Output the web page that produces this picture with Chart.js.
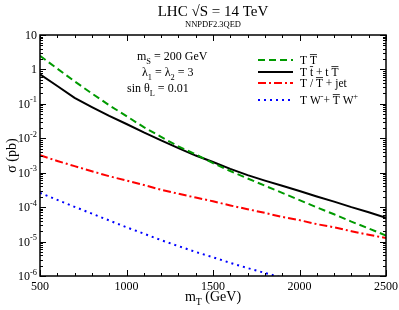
<!DOCTYPE html>
<html><head><meta charset="utf-8">
<script src="https://cdn.jsdelivr.net/npm/chart.js@4.4.1/dist/chart.umd.min.js"></script>
<style>html,body{margin:0;padding:0;background:#fff}</style>
</head><body>
<canvas id="c" width="399" height="310"></canvas>
<script>
// ---- data ----
const massGeV = [500,600,700,800,900,1000,1100,1200,1300,1400,1500,1600,1700,1800,1900,2000,2100,2200,2300,2400,2500];
const sigmaTTbar = [2.5,1.05,0.45,0.20,0.091,0.044,0.021,0.011,5.8e-3,3.4e-3,1.9e-3,1.12e-3,6.8e-4,4.2e-4,2.6e-4,1.6e-4,9.8e-5,6.2e-5,3.8e-5,2.4e-5,1.5e-5];
const sigmaTtbar = [0.72,0.33,0.15,0.081,0.045,0.026,0.0148,8.7e-3,5.2e-3,3.15e-3,2.05e-3,1.29e-3,8.5e-4,5.9e-4,4.2e-4,2.95e-4,2.04e-4,1.45e-4,1.0e-4,7.1e-5,4.9e-5];
const sigmaTjet = [3.2e-3,2.2e-3,1.55e-3,1.1e-3,7.9e-4,5.9e-4,4.4e-4,3.2e-4,2.45e-4,1.9e-4,1.48e-4,1.12e-4,8.7e-5,6.8e-5,5.2e-5,4.2e-5,3.2e-5,2.6e-5,2.0e-5,1.58e-5,1.26e-5];
const massTW = [500,600,700,800,900,1000,1100,1200,1300,1400,1500,1600,1700,1800,1900];
const sigmaTW = [2.6e-4,1.62e-4,1.02e-4,6.5e-5,4.1e-5,2.6e-5,1.7e-5,1.1e-5,7.4e-6,5.0e-6,3.5e-6,2.4e-6,1.7e-6,1.23e-6,8.9e-7];
const xTicks = [500,1000,1500,2000,2500];
const yExponents = [1,0,-1,-2,-3,-4,-5,-6];

const SERIF = '"Liberation Serif","DejaVu Serif",serif';
const GREEN = '#009a00';

function pts(xs, ys){ return xs.map((x,i)=>({x:x, y:ys[i]})); }

function font(sz){ return sz + 'px ' + SERIF; }
// rich text: segs = [{t, s:'sub'|'sup', bar:bool}]
function rich(ctx, x, y, segs, size, align){
  let w = 0; const parts = [];
  for (const g of segs){
    const sz = g.s ? size*0.7 : size;
    ctx.font = font(sz);
    const mw = ctx.measureText(g.t).width;
    parts.push({g, sz, mw}); w += mw;
  }
  let cx = align==='center' ? x - w/2 : (align==='right' ? x - w : x);
  ctx.textAlign='left'; ctx.textBaseline='alphabetic';
  for (const p of parts){
    ctx.font = font(p.sz);
    let dy = 0;
    if (p.g.s==='sub') dy = size*0.3;
    if (p.g.s==='sup') dy = -size*0.45;
    ctx.fillText(p.g.t, cx, y+dy);
    if (p.g.bar){
      const tw = ctx.measureText(p.g.t.trim()).width;
      const off = p.g.t.length - p.g.t.trimStart().length ? ctx.measureText(' ').width : 0;
      ctx.save(); ctx.lineWidth=0.8; ctx.beginPath();
      ctx.moveTo(cx+off, y+dy-size*0.82); ctx.lineTo(cx+off+tw, y+dy-size*0.82); ctx.stroke(); ctx.restore();
    }
    cx += p.mw;
  }
}

const decor = {
  id:'decor',
  afterDraw(chart){
    const ctx = chart.ctx, a = chart.chartArea, xs = chart.scales.x, ys = chart.scales.y;
    ctx.save();
    ctx.strokeStyle='#000'; ctx.fillStyle='#000';
    // frame
    ctx.lineWidth=1.5;
    ctx.strokeRect(a.left, a.top, a.right-a.left, a.bottom-a.top);
    // x ticks
    ctx.lineWidth=1;
    for (let m=500; m<=2500; m+=100){
      const px = Math.round(xs.getPixelForValue(m))+0.5;
      const L = (m%500===0) ? 6 : 3;
      ctx.beginPath();
      ctx.moveTo(px, a.bottom); ctx.lineTo(px, a.bottom-L);
      ctx.moveTo(px, a.top); ctx.lineTo(px, a.top+L);
      ctx.stroke();
    }
    // y ticks
    for (let e=-6; e<=1; e++){
      for (let j=1; j<=9; j++){
        if (e===1 && j>1) break;
        const v = j*Math.pow(10,e);
        const py = Math.round(ys.getPixelForValue(v))+0.5;
        const L = j===1 ? 6 : 3;
        ctx.beginPath();
        ctx.moveTo(a.left, py); ctx.lineTo(a.left+L, py);
        ctx.moveTo(a.right, py); ctx.lineTo(a.right-L, py);
        ctx.stroke();
      }
    }
    // x tick labels
    ctx.font = font(12); ctx.textAlign='center'; ctx.textBaseline='alphabetic';
    for (const t of xTicks){ ctx.fillText(String(t), xs.getPixelForValue(t), a.bottom+14); }
    // y tick labels
    for (const e of yExponents){
      const py = ys.getPixelForValue(Math.pow(10,e)) + 4;
      if (e===0) rich(ctx, 37, py, [{t:'1'}], 12, 'right');
      else if (e===1) rich(ctx, 37, py, [{t:'10'}], 12, 'right');
      else rich(ctx, 37, py, [{t:'10'},{t:String(e),s:'sup'}], 12, 'right');
    }
    // axis titles
    const cxp = (a.left+a.right)/2;
    rich(ctx, cxp, 301, [{t:'m'},{t:'T',s:'sub'},{t:' (GeV)'}], 14, 'center');
    ctx.save(); ctx.translate(16, (a.top+a.bottom)/2); ctx.rotate(-Math.PI/2);
    rich(ctx, 0, 0, [{t:'σ (pb)'}], 14, 'center'); ctx.restore();
    // titles
    rich(ctx, cxp, 16, [{t:'LHC √S = 14 TeV'}], 15, 'center');
    rich(ctx, cxp, 27, [{t:'NNPDF2.3QED'}], 8.5, 'center');
    // annotation
    rich(ctx, 137, 60, [{t:'m'},{t:'S',s:'sub'},{t:' = 200 GeV'}], 12, 'left');
    rich(ctx, 142, 76, [{t:'λ'},{t:'1',s:'sub'},{t:' = λ'},{t:'2',s:'sub'},{t:' = 3'}], 12, 'left');
    rich(ctx, 127, 92, [{t:'sin θ'},{t:'L',s:'sub'},{t:' = 0.01'}], 12, 'left');
    // legend
    const leg = [
      {y:60, c:GREEN, d:[7,4], segs:[{t:'T '},{t:'T',bar:true}]},
      {y:72, c:'#000', d:[], segs:[{t:'T '},{t:'t',bar:true},{t:' + t '},{t:'T',bar:true}]},
      {y:83, c:'#ff0000', d:[8,3,2,3], segs:[{t:'T / '},{t:'T',bar:true},{t:' + jet'}]},
      {y:100, c:'#0000ff', d:[2,4], segs:[{t:'T W'},{t:'-',s:'sup'},{t:'+ '},{t:'T',bar:true},{t:' W'},{t:'+',s:'sup'}]}
    ];
    for (const l of leg){
      ctx.save(); ctx.strokeStyle=l.c; ctx.lineWidth=2; ctx.setLineDash(l.d);
      ctx.beginPath(); ctx.moveTo(258, l.y); ctx.lineTo(293, l.y); ctx.stroke(); ctx.restore();
      rich(ctx, 300, l.y+4, l.segs, 11.5, 'left');
    }
    ctx.restore();
  }
};

new Chart(document.getElementById('c').getContext('2d'), {
  type:'line',
  data:{ datasets:[
    {data:pts(massGeV, sigmaTTbar), borderColor:GREEN, borderWidth:2, borderDash:[7,4]},
    {data:pts(massGeV, sigmaTtbar), borderColor:'#000', borderWidth:2},
    {data:pts(massGeV, sigmaTjet), borderColor:'#ff0000', borderWidth:2, borderDash:[8,3,2,3]},
    {data:pts(massTW, sigmaTW), borderColor:'#0000ff', borderWidth:2, borderDash:[2,4]}
  ]},
  options:{
    responsive:false, animation:false, devicePixelRatio:1,
    layout:{padding:{left:40, right:13, top:35, bottom:34}},
    elements:{point:{radius:0}, line:{tension:0, fill:false}},
    scales:{
      x:{type:'linear', min:500, max:2500, display:false},
      y:{type:'logarithmic', min:1e-6, max:10, display:false}
    },
    plugins:{legend:{display:false}, tooltip:{enabled:false}}
  },
  plugins:[decor]
});
</script>
</body></html>
